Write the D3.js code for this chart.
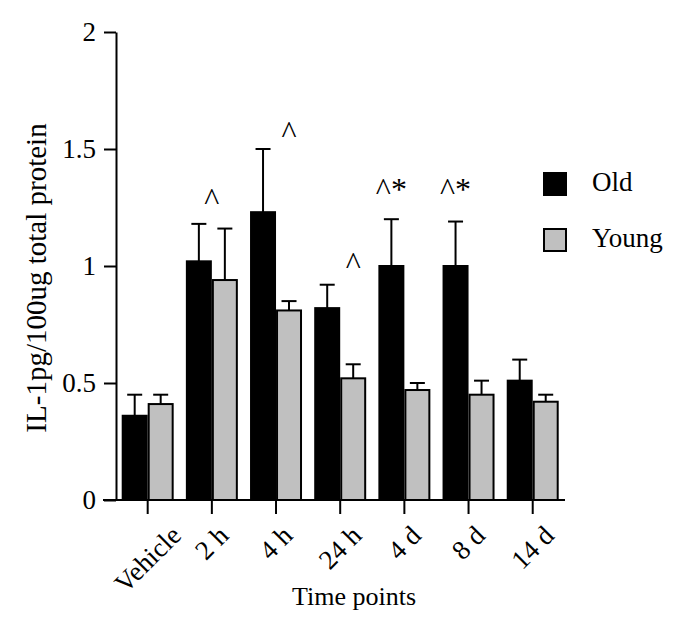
<!DOCTYPE html>
<html><head><meta charset="utf-8">
<script src="https://cdn.jsdelivr.net/npm/d3@7"></script>
<style>
body{margin:0;background:#fff}
svg text{font-family:"Liberation Serif","Times New Roman",serif !important;fill:#000}
</style>
</head><body><svg id="chart" width="683" height="624"></svg>
<script>
// ---- data ----
const categories = ["Vehicle","2 h","4 h","24 h","4 d","8 d","14 d"];
const seriesNames = ["Old","Young"];
const oldMeans   = [0.36,1.02,1.23,0.82,1.00,1.00,0.51];
const oldErrors  = [0.09,0.16,0.27,0.10,0.20,0.19,0.09];
const youngMeans = [0.41,0.94,0.81,0.52,0.47,0.45,0.42];
const youngErrors= [0.04,0.22,0.04,0.06,0.03,0.06,0.03];
const yTicks = [0,0.5,1,1.5,2];
const yLabel = "IL-1pg/100ug total protein";
const xLabel = "Time points";
const annoCats   = ["2 h","4 h","24 h","4 d","8 d"];
const annoSeries = [null,"Young","Young","Old","Old"];
const annoText   = ["^","^","^","^*","^*"];
const annoY      = [1.241,1.527,0.967,1.284,1.284];

// ---- layout ----
const FONT = '"Liberation Serif","Times New Roman",serif';
const svg = d3.select("#chart");
const colors = {Old:"#000000", Young:"#c0c0c0"};
const y = d3.scaleLinear().domain([0,2]).range([500,32]);
const x0 = d3.scaleBand().domain(categories).range([115.6,564.8]).paddingInner(0.19).paddingOuter(0.095);
const x1 = d3.scaleBand().domain(seriesNames).range([0,x0.bandwidth()]).padding(0);

const rows = categories.map((c,i)=>({cat:c, vals:[
  {s:"Old", v:oldMeans[i], e:oldErrors[i]},
  {s:"Young", v:youngMeans[i], e:youngErrors[i]}
]}));

// error bars (behind bars)
const eb = svg.append("g").attr("stroke","#000").attr("stroke-width",2);
rows.forEach(r=>r.vals.forEach(d=>{
  const cx = x0(r.cat)+x1(d.s)+x1.bandwidth()/2;
  eb.append("line").attr("x1",cx).attr("x2",cx).attr("y1",y(d.v)).attr("y2",y(d.v+d.e));
  eb.append("line").attr("x1",cx-7.5).attr("x2",cx+7.5).attr("y1",y(d.v+d.e)).attr("y2",y(d.v+d.e));
}));

// bars
svg.append("g").selectAll("g").data(rows).join("g")
  .attr("transform",d=>`translate(${x0(d.cat)},0)`)
  .selectAll("rect").data(d=>d.vals).join("rect")
  .attr("x",d=>x1(d.s)+1).attr("width",x1.bandwidth()-2)
  .attr("y",d=>y(d.v)).attr("height",d=>y(0)-y(d.v))
  .attr("fill",d=>colors[d.s]).attr("stroke","#000").attr("stroke-width",2);

// y axis
const yAxis = svg.append("g").attr("transform","translate(116,0)")
  .call(d3.axisLeft(y).tickValues(yTicks).tickSize(12).tickSizeOuter(0).tickPadding(8).tickFormat(d=>String(d)));
yAxis.attr("font-family",FONT);
yAxis.select(".domain").attr("stroke-width",2);
yAxis.selectAll(".tick line").attr("stroke-width",2);
yAxis.selectAll(".tick text").style("font-family",FONT).attr("font-size",27).attr("dy","0.30em");

// x axis
const xAxis = svg.append("g").attr("transform","translate(0,500)")
  .call(d3.axisBottom(x0).tickSize(14).tickSizeOuter(0));
xAxis.attr("font-family",FONT);
xAxis.select(".domain").remove();
xAxis.append("line").attr("x1",103).attr("x2",565).attr("y1",0).attr("y2",0).attr("stroke","#000").attr("stroke-width",2);
xAxis.selectAll(".tick line").attr("stroke-width",2);
xAxis.selectAll(".tick text").style("font-family",FONT).attr("font-size",27)
  .attr("x",0).attr("y",0).attr("dy",0).attr("text-anchor","end")
  .attr("transform","rotate(-45)")
  .each(function(){
    // centre the rotated label's box under its tick, top at a fixed gap
    const t = d3.select(this);
    const b = this.getBBox();
    const a = -Math.PI/4, c = Math.cos(a), s = Math.sin(a);
    const pts = [[b.x,b.y],[b.x+b.width,b.y],[b.x,b.y+b.height],[b.x+b.width,b.y+b.height]]
      .map(([px,py])=>[px*c-py*s, px*s+py*c]);
    const minX = d3.min(pts,p=>p[0]), maxX = d3.max(pts,p=>p[0]), minY = d3.min(pts,p=>p[1]);
    const dx = -(minX+maxX)/2, dy = 20 - minY;
    t.attr("transform",`translate(${dx},${dy}) rotate(-45)`);
  });

// axis titles
svg.append("text").attr("transform","translate(46,278) rotate(-90)").attr("text-anchor","middle")
  .style("font-family",FONT).attr("font-size",29).text(yLabel);
svg.append("text").attr("x",354).attr("y",605).attr("text-anchor","middle")
  .style("font-family",FONT).attr("font-size",26).text(xLabel);

// annotations
annoCats.forEach((c,i)=>{
  const s = annoSeries[i];
  const cx = s ? x0(c)+x1(s)+x1.bandwidth()/2 : x0(c)+x0.bandwidth()/2;
  svg.append("text").attr("x",cx).attr("y",y(annoY[i])).attr("text-anchor","middle")
    .style("font-family",FONT).attr("font-size",32).text(annoText[i]);
});

// legend
const lg = svg.append("g").attr("transform","translate(543,172)");
seriesNames.forEach((s,i)=>{
  const g = lg.append("g").attr("transform",`translate(0,${i*56})`);
  g.append("rect").attr("x",1).attr("y",1).attr("width",22).attr("height",22)
    .attr("fill",colors[s]).attr("stroke","#000").attr("stroke-width",2);
  g.append("text").attr("x",49).attr("y",19).style("font-family",FONT).attr("font-size",27).text(s);
});
</script>
</body></html>
